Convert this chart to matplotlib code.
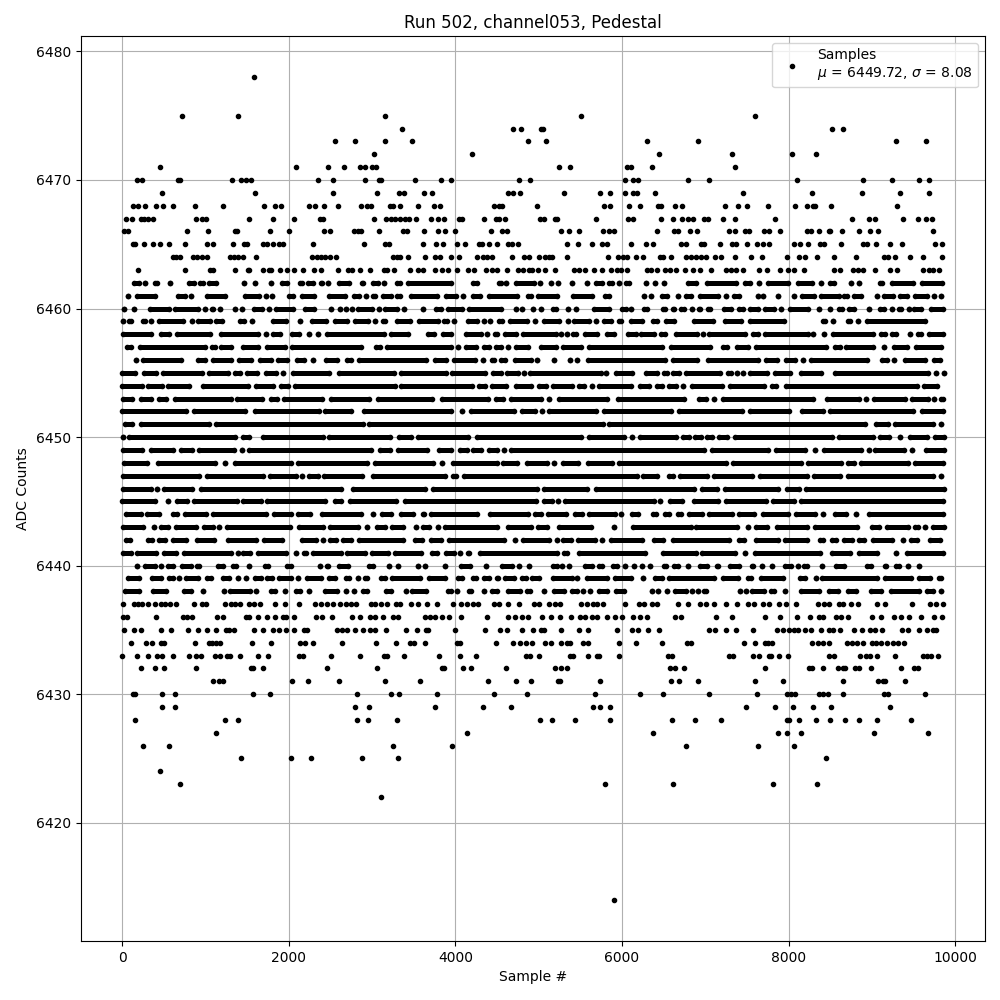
import matplotlib
matplotlib.use("Agg")
import matplotlib.pyplot as plt

# Sample positions, level by level (ADC counts).
# Upper and lower rows: the dots can be told apart, so each one is listed.
dots = {}
dots[6478] = [1584]
dots[6475] = [720, 1392, 3156, 5512, 7592]
dots[6474] = [3364, 4696, 4792, 5032, 5056, 8516, 8648]
dots[6473] = [2556, 2796, 3156, 3484, 4876, 5092, 6304, 6916, 9284, 9644]
dots[6472] = [3024, 4204, 6448, 7316, 8036, 8324]
dots[6471] = [456, 2088, 2472, 2664, 2856, 2920, 3000, 3048, 5248, 5380, 6056, 6104, 6364, 7352]
dots[6470] = [184, 240, 672, 696, 1320, 1424, 1488, 1544, 2352, 2532, 2916, 3088, 3112, 3520, 3832, 3952,
              4768, 4900, 6040, 6136, 6196, 6788, 7040, 8096, 8888, 9236, 9560, 9680]
dots[6469] = [480, 1596, 2532, 3060, 3324, 3388, 3628, 3724, 4636, 4696, 4780, 5308, 5740, 5860, 6040, 6136,
              6184, 6400, 7448, 8276, 8876, 9332, 9680]
dots[6468] = [132, 192, 276, 408, 492, 612, 876, 1212, 1704, 1836, 1908, 2244, 2316, 2424, 2592, 2868, 2944,
              2988, 3216, 3252, 3336, 3556, 3748, 3820, 4468, 4528, 4564, 4984, 5788, 5860, 6088, 6220, 6436,
              6472, 6640, 6716, 7232, 7388, 7496, 7748, 8072, 8216, 8288, 8320, 8504, 9296]
dots[6467] = [48, 120, 224, 264, 312, 372, 888, 960, 1004, 1524, 1812, 2064, 2372, 2412, 3024, 3168, 3224,
              3280, 3336, 3396, 3448, 3532, 3712, 3796, 3868, 4048, 4076, 4348, 4488, 4528, 4600, 5020, 5068,
              5200, 5216, 5692, 6076, 6136, 6472, 6616, 6716, 6788, 6848, 6980, 7028, 7208, 7352, 7832, 8756,
              8960, 9032, 9368, 9548, 9644, 9716]
dots[6466] = [24, 72, 780, 1032, 1360, 1384, 1776, 2004, 2424, 2492, 2784, 2832, 2868, 3084, 3376, 3424, 3628,
              3796, 3880, 4000, 4432, 4560, 4624, 5272, 5368, 5488, 5776, 5840, 5908, 6424, 6628, 6668, 6820,
              6896, 7288, 7360, 7472, 7520, 7700, 7768, 7892, 8216, 8264, 8360, 8480, 8496, 8636, 8840, 8972,
              9068, 9728]
dots[6465] = [128, 160, 264, 372, 456, 564, 756, 1020, 1092, 1332, 1464, 1504, 1692, 1744, 1812, 1884, 1936,
              2292, 2904, 3156, 3208, 3616, 3772, 3856, 4024, 4120, 4288, 4324, 4408, 4504, 4636, 4684, 4756,
              5344, 5476, 5644, 5764, 5824, 6112, 6292, 6376, 6708, 6768, 6948, 6988, 7172, 7316, 7368, 7496,
              7616, 7688, 7760, 8060, 8136, 8228, 8372, 8420, 8624, 8888, 8944, 9044, 9212, 9356, 9752, 9836]
dots[6464] = [608, 648, 696, 852, 896, 960, 1016, 1296, 1344, 1392, 1456, 1608, 2280, 2336, 2384, 2432, 2496,
              2568, 3252, 3304, 3336, 3436, 3640, 3756, 3816, 3952, 4048, 4264, 4336, 4384, 4444, 4684, 4828,
              4888, 5008, 5076, 5128, 5164, 5344, 5836, 5956, 6016, 6064, 6168, 6256, 6460, 6496, 6592, 6772,
              6828, 6888, 6948, 7008, 7112, 7184, 7352, 7544, 7676, 7976, 8120, 8192, 8336, 8540, 8804, 9148,
              9188, 9272, 9452, 9608, 9836]
dots[6463] = [192, 756, 1056, 1096, 1356, 1512, 1528, 1692, 1764, 1792, 1896, 1980, 2064, 2172, 2304, 2388,
              2592, 2712, 2760, 2856, 2972, 3144, 3184, 3268, 3460, 3556, 3616, 3760, 3844, 3916, 4024, 4152,
              4228, 4372, 4436, 4496, 4624, 4756, 4816, 4888, 4924, 4996, 5076, 5200, 5428, 5488, 5560, 5668,
              5764, 5872, 5936, 5984, 6056, 6304, 6352, 6424, 6516, 6576, 6652, 6752, 6848, 6932, 7064, 7248,
              7308, 7368, 7448, 7640, 7736, 7892, 7988, 8068, 8188, 8540, 8612, 8768, 8828, 8896, 9032, 9212,
              9296, 9608, 9688, 9736, 9800]
dots[6437] = [12, 144, 192, 244, 312, 396, 464, 516, 576, 648, 864, 960, 1004, 1236, 1308, 1356, 1416, 1524,
              1584, 1656, 1836, 1956, 2124, 2316, 2392, 2464, 2532, 2616, 2684, 2744, 2804, 2984, 3032, 3104,
              3184, 3288, 3336, 3464, 3556, 3656, 3784, 3976, 4072, 4136, 4216, 4276, 4468, 4528, 4636, 4768,
              4948, 5008, 5128, 5196, 5256, 5512, 5576, 5656, 5696, 5776, 6040, 6208, 6268, 6364, 6424, 6676,
              6788, 6936, 7008, 7108, 7244, 7376, 7508, 7588, 7688, 7760, 7880, 7968, 8088, 8348, 8428, 8488,
              8608, 8656, 8744, 8828, 9056, 9152, 9476, 9696, 9768, 9848]
dots[6436] = [12, 64, 408, 732, 784, 844, 1140, 1212, 1488, 1524, 1632, 1740, 1836, 1932, 1968, 2064, 2324,
              2404, 2520, 2760, 2852, 2976, 3032, 3132, 3252, 3312, 3636, 3696, 3756, 3836, 3928, 4072, 4384,
              4636, 4720, 4804, 4876, 5044, 5152, 5256, 5392, 5500, 5560, 5636, 5704, 5824, 5916, 6004, 6136,
              6220, 6296, 6636, 6708, 7124, 7316, 7712, 7892, 8096, 8252, 8368, 8408, 8564, 8624, 8708, 9000,
              9104, 9260, 9344, 9440, 9592, 9740, 9836]
dots[6435] = [24, 144, 224, 468, 588, 792, 912, 1020, 1128, 1248, 1284, 1344, 1584, 1692, 1816, 1884, 1964,
              2064, 2184, 2224, 2584, 2644, 2704, 2796, 2892, 2976, 3036, 3168, 3412, 3544, 3652, 3676, 4000,
              4360, 4540, 4624, 4804, 4936, 5032, 5064, 5272, 5488, 5596, 5944, 6124, 6196, 6316, 6448, 7040,
              7112, 7244, 7364, 7568, 7856, 7928, 8008, 8068, 8116, 8200, 8268, 8384, 8488, 8536, 8612, 8780,
              8876, 8976, 9036, 9116, 9360, 9428, 9560, 9656, 9728, 9768]
dots[6434] = [108, 288, 360, 464, 504, 876, 1044, 1084, 1124, 1180, 1560, 1788, 2136, 2192, 2292, 2636, 3048,
              3288, 3456, 3504, 3640, 4024, 4056, 4492, 4696, 4780, 4844, 4924, 5080, 5152, 5272, 5336, 5376,
              5532, 5596, 5968, 6172, 6476, 6784, 6828, 7460, 7592, 7716, 7748, 7796, 8276, 8356, 8416, 8480,
              8696, 8756, 8816, 8888, 8996, 9048, 9104, 9176, 9248, 9308, 9380]
dots[6433] = [0, 176, 312, 424, 476, 612, 804, 892, 944, 1116, 1176, 1256, 1296, 1416, 1632, 1752, 2124, 2176,
              2508, 2856, 3144, 3184, 3388, 3808, 4060, 4252, 4848, 4896, 5008, 5380, 5408, 5596, 5696, 5728,
              5968, 6556, 6604, 7280, 7328, 7568, 7640, 7760, 7788, 7880, 7988, 8480, 8548, 8852, 8924, 8976,
              9056, 9272, 9608, 9656, 9708, 9788]
dots[6432] = [228, 396, 504, 888, 1544, 1568, 1692, 2460, 3060, 3844, 3860, 4096, 4192, 4612, 5200, 5272, 5344,
              6580, 6640, 6740, 7712, 8240, 8276, 8408, 8588, 8648, 8676, 8800, 8848, 8984, 9344, 9508, 9548]
dots[6431] = [1092, 1164, 1212, 2040, 2232, 2604, 3156, 3580, 4396, 4732, 4912, 5236, 5260, 5740, 6592, 6688,
              6916, 7592, 7928, 8648, 9068, 9128, 9152, 9392]
dots[6430] = [136, 160, 480, 636, 1572, 1776, 2820, 3228, 3324, 3784, 4468, 4864, 5680, 6220, 6496, 7040, 7616,
              7976, 8028, 8076, 8360, 8416, 8468, 8648, 9140, 9196, 9632]
dots[6429] = [480, 636, 2796, 2964, 3760, 4336, 4672, 5656, 5740, 5860, 7484, 7832, 8048, 8288, 8504, 9212]
dots[6428] = [156, 1236, 1392, 2820, 2952, 3300, 5020, 5164, 5440, 5860, 6604, 6872, 7184, 7976, 8008, 8120,
              8324, 8492, 8672, 8840, 9056, 9464]
dots[6427] = [1128, 4144, 6376, 7868, 7976, 8144, 9020, 9668]
dots[6426] = [252, 564, 3252, 3964, 6772, 7628, 8060]
dots[6425] = [1428, 2028, 2268, 2880, 3312, 8444]
dots[6424] = [456]
dots[6423] = [696, 5800, 6616, 7808, 8336]
dots[6422] = [3108]
dots[6414] = [5908]

# Middle rows: the dots overlap into bars, so single samples can't be read.
# Each pair is the first and last sample of one unbroken stretch.
runs = {}
runs[6462] = [(144, 200), (276, 276), (400, 424), (576, 576), (808, 864), (936, 968), (1040, 1124), (1464, 1464),
              (1596, 1596), (1788, 1788), (1924, 1984), (2136, 2160), (2236, 2292), (2392, 2400), (2476, 2476),
              (2604, 2720), (2876, 2892), (3016, 3072), (3144, 3144), (3296, 3336), (3428, 3952), (4208, 4264),
              (4520, 4552), (4612, 4612), (4728, 4944), (5016, 5016), (5152, 5152), (5236, 5236), (5404, 5404),
              (5584, 5584), (5688, 5764), (5840, 5884), (5968, 5968), (6048, 6084), (6288, 6288), (6400, 6400),
              (6508, 6508), (6788, 6884), (7020, 7368), (7480, 7536), (7640, 7640), (7752, 7996), (8112, 8276),
              (8392, 8392), (8500, 8544), (8744, 8744), (8840, 8840), (9100, 9124), (9240, 9496), (9600, 9836)]
runs[6461] = [(72, 72), (176, 396), (676, 760), (828, 828), (1016, 1232), (1476, 1640), (1728, 1728), (1800, 1800),
              (2008, 2052), (2164, 2304), (2488, 2672), (2784, 2840), (2924, 2924), (3016, 3040), (3136, 3232),
              (3300, 3336), (3468, 3776), (3888, 4004), (4096, 4096), (4216, 4296), (4408, 4744), (4868, 4904),
              (4988, 5224), (5408, 5644), (5800, 5848), (6268, 6268), (6352, 6352), (6480, 6544), (6672, 6672),
              (6768, 6824), (6940, 7156), (7248, 7248), (7340, 7404), (7628, 7628), (7688, 7688), (7868, 7868),
              (8064, 8064), (8160, 8304), (8392, 8608), (8660, 8696), (8780, 8864), (9056, 9056), (9140, 9256),
              (9340, 9424), (9520, 9664), (9748, 9748), (9832, 9832)]
runs[6460] = [(24, 24), (144, 144), (336, 560), (636, 912), (996, 996), (1076, 1092), (1176, 1176), (1356, 1356),
              (1440, 1440), (1584, 1680), (1764, 1764), (1844, 2052), (2196, 2304), (2508, 2508), (2616, 2616),
              (2688, 2688), (2756, 2756), (2832, 3000), (3084, 3084), (3160, 3304), (3388, 3388), (3616, 3616),
              (3768, 3832), (3908, 4084), (4168, 4544), (4724, 4724), (4800, 4800), (4928, 4928), (5032, 5032),
              (5176, 5204), (5352, 5352), (5452, 5452), (5668, 5848), (6000, 6044), (6112, 6112), (6260, 6304),
              (6488, 6512), (6608, 6624), (6708, 6744), (6844, 6844), (6924, 6940), (7032, 7056), (7220, 7304),
              (7400, 7456), (7540, 7628), (7720, 7824), (7912, 7912), (8020, 8236), (8364, 8364), (8492, 8492),
              (8600, 8636), (8720, 8784), (8960, 8960), (9100, 9144), (9236, 9236), (9320, 9344), (9440, 9440),
              (9500, 9584), (9712, 9848)]
runs[6459] = [(12, 12), (84, 112), (256, 280), (348, 348), (448, 736), (840, 840), (916, 1052), (1132, 1200),
              (1416, 1464), (1556, 1556), (1816, 1972), (2136, 2136), (2276, 2452), (2556, 2704), (2792, 2952),
              (3036, 3036), (3136, 3160), (3296, 3456), (3568, 3792), (3868, 3904), (3988, 3988), (4156, 4256),
              (4348, 4348), (4416, 4416), (4520, 4564), (4656, 4864), (4960, 4960), (5068, 5244), (5348, 5348),
              (5428, 5604), (5688, 5688), (5788, 5864), (5960, 5992), (6108, 6244), (6368, 6424), (6528, 6624),
              (6864, 7088), (7232, 7424), (7540, 7948), (8412, 8436), (8536, 8536), (8712, 8736), (8836, 8836),
              (8944, 9636)]
runs[6458] = [(16, 352), (464, 568), (664, 1056), (1184, 1632), (1732, 1732), (1816, 1896), (2036, 2124),
              (2240, 2240), (2352, 2352), (2464, 3144), (3232, 3436), (3668, 3744), (3856, 3944), (4128, 4304),
              (4376, 4376), (4472, 4504), (4600, 4724), (4808, 5204), (5268, 5268), (5340, 5340), (5408, 5444),
              (5560, 5704), (5816, 5904), (6068, 6164), (6228, 6384), (6472, 6512), (6648, 6904), (6968, 6968),
              (7048, 7476), (7572, 7636), (7720, 8236), (8296, 8296), (8420, 8420), (8532, 9016), (9112, 9156),
              (9240, 9288), (9452, 9452), (9552, 9588), (9680, 9856)]
runs[6457] = [(64, 112), (216, 992), (1076, 1112), (1184, 1304), (1456, 1632), (1736, 1952), (2036, 2872),
              (3048, 3092), (3184, 3944), (4032, 4032), (4128, 4244), (4340, 4404), (4488, 4544), (4628, 4628),
              (4728, 4872), (5028, 5204), (5288, 5504), (5600, 6484), (6588, 7056), (7212, 7256), (7380, 7516),
              (7608, 8448), (8560, 8616), (8688, 9008), (9148, 9148), (9264, 9424), (9528, 9824)]
runs[6456] = [(164, 164), (256, 704), (916, 992), (1088, 1304), (1408, 1544), (1656, 1784), (1876, 1984),
              (2096, 2184), (2296, 2296), (2448, 2584), (2704, 2752), (2848, 3644), (3756, 3892), (3988, 4232),
              (4336, 4336), (4440, 4464), (4548, 4592), (4712, 4904), (4980, 4980), (5184, 5184), (5372, 5372),
              (5464, 5464), (5588, 6516), (6608, 6904), (7032, 7636), (7728, 7864), (7968, 8080), (8168, 8168),
              (8272, 8936), (9120, 9184), (9268, 9268), (9392, 9636), (9744, 9816)]
runs[6455] = [(4, 152), (264, 404), (496, 960), (1040, 1272), (1360, 1412), (1504, 1624), (1724, 1852),
              (1936, 1936), (2056, 2480), (2608, 3264), (3344, 3884), (3960, 4352), (4456, 4544), (4616, 4752),
              (4820, 4820), (4896, 5744), (5812, 5812), (5928, 6116), (6288, 6424), (6508, 6536), (6616, 6684),
              (6768, 7176), (7272, 7304), (7376, 7376), (7452, 7452), (7540, 7736), (7840, 8016), (8144, 8388),
              (8552, 9676), (9768, 9768), (9860, 9860)]
runs[6454] = [(4, 244), (312, 484), (556, 800), (976, 1512), (1608, 1812), (1904, 1992), (2076, 3280),
              (3344, 4204), (4280, 4352), (4440, 4604), (4728, 4912), (5000, 5084), (5168, 5404), (5488, 5544),
              (5644, 5644), (5728, 6104), (6216, 6324), (6416, 6484), (6568, 6644), (6728, 6728), (6840, 7196),
              (7300, 7704), (7800, 7848), (7968, 9544), (9620, 9784)]
runs[6453] = [(16, 120), (232, 344), (448, 532), (640, 1304), (1384, 1680), (1784, 1864), (1948, 2400),
              (2512, 2960), (3076, 3724), (3840, 4392), (4488, 4576), (4668, 5024), (5128, 5128), (5240, 5816),
              (5948, 6744), (6920, 7008), (7100, 7100), (7208, 8288), (8460, 8848), (8928, 8928), (9020, 9396),
              (9480, 9676), (9744, 9744), (9832, 9856)]
runs[6452] = [(4, 772), (864, 1480), (1600, 2360), (2436, 2752), (2904, 3944), (4084, 4084), (4188, 4704),
              (4796, 4952), (5044, 5044), (5128, 5684), (5788, 6584), (6688, 7436), (7540, 8008), (8160, 8408),
              (8492, 9488), (9600, 9856)]
runs[6451] = [(36, 120), (228, 1044), (1128, 2892), (2968, 5776), (5848, 8916), (9048, 9196), (9280, 9728),
              (9828, 9828)]
runs[6450] = [(8, 8), (88, 1360), (1448, 1520), (1696, 2412), (2488, 3212), (3328, 3472), (3556, 4156),
              (4256, 5512), (5608, 6024), (6120, 6120), (6216, 6644), (6728, 6804), (6872, 6944), (7020, 7076),
              (7160, 7256), (7352, 8516), (8600, 9016), (9100, 9208), (9332, 9332), (9460, 9664), (9760, 9864)]
runs[6449] = [(16, 240), (344, 616), (712, 840), (928, 1344), (1444, 1444), (1528, 2992), (3096, 3212),
              (3316, 3664), (3808, 3944), (4060, 4136), (4208, 4312), (4400, 4504), (4588, 4588), (4668, 6984),
              (7080, 7756), (7848, 8200), (8316, 8316), (8424, 8864), (8964, 8964), (9040, 9384), (9476, 9476),
              (9648, 9864)]
runs[6448] = [(24, 296), (428, 1120), (1232, 1232), (1360, 2024), (2116, 2936), (3036, 3736), (3844, 3844),
              (3968, 4504), (4576, 4736), (4856, 5104), (5188, 5188), (5288, 5476), (5588, 5884), (5960, 7248),
              (7328, 8144), (8232, 8624), (8712, 8788), (8868, 9436), (9520, 9856)]
runs[6447] = [(16, 924), (1024, 1692), (1776, 2092), (2164, 2164), (2248, 2352), (2424, 2876), (3016, 3872),
              (3968, 4012), (4100, 6184), (6256, 6424), (6560, 6616), (6700, 7024), (7108, 7556), (7652, 8224),
              (8300, 8616), (8708, 9728), (9824, 9824)]
runs[6446] = [(16, 344), (424, 424), (508, 840), (944, 2632), (2768, 3632), (3728, 4976), (5060, 5584),
              (5688, 6864), (6960, 7144), (7232, 7876), (7980, 8128), (8208, 9864)]
runs[6445] = [(4, 400), (556, 556), (664, 784), (864, 1384), (1456, 1664), (1744, 2432), (2556, 2632),
              (2736, 3292), (3400, 4964), (5068, 5164), (5236, 5236), (5320, 6384), (6456, 6456), (6580, 6724),
              (6860, 7148), (7252, 7728), (7808, 8064), (8152, 9856)]
runs[6444] = [(48, 232), (304, 444), (616, 664), (760, 1012), (1088, 1732), (1824, 2032), (2116, 2260),
              (2404, 2872), (3008, 3008), (3116, 3232), (3344, 3496), (3608, 3624), (3704, 4264), (4420, 4872),
              (4960, 5024), (5108, 5324), (5440, 5524), (5608, 5912), (5992, 5992), (6116, 6196), (6368, 6412),
              (6520, 6564), (6668, 6704), (6800, 6956), (7048, 7316), (7408, 7584), (7692, 7988), (8088, 8316),
              (8412, 8412), (8560, 8688), (8812, 8812), (8960, 9856)]
runs[6443] = [(16, 252), (384, 384), (464, 552), (648, 892), (988, 1092), (1168, 1168), (1264, 2016),
              (2128, 2412), (2496, 2832), (2940, 2940), (3056, 3152), (3236, 3376), (3528, 3528), (3616, 3684),
              (3796, 3796), (3880, 4504), (4628, 4904), (4996, 5096), (5248, 5624), (5908, 5908), (6128, 6824),
              (6888, 7384), (7516, 7516), (7608, 7744), (7860, 8216), (8312, 8816), (9000, 9084), (9180, 9436),
              (9520, 9556), (9636, 9636), (9728, 9864)]
runs[6442] = [(44, 100), (316, 360), (444, 512), (616, 772), (904, 1104), (1276, 1612), (1704, 1924),
              (2164, 2332), (2412, 2412), (2496, 2572), (2656, 2752), (2848, 3376), (3520, 3604), (3708, 3824),
              (3920, 4584), (4720, 4720), (4808, 5124), (5216, 5216), (5296, 5392), (5476, 5672), (5764, 5764),
              (5868, 6244), (6388, 6496), (6616, 7288), (7400, 7468), (7608, 7876), (7960, 8224), (8380, 8408),
              (8520, 8568), (8660, 8756), (8840, 8904), (9008, 9236), (9368, 9368), (9472, 9536), (9700, 9816)]
runs[6441] = [(16, 104), (184, 412), (504, 652), (748, 1312), (1396, 1396), (1456, 1532), (1636, 1972),
              (2088, 2088), (2188, 2212), (2296, 2624), (2704, 2912), (2996, 3192), (3276, 3592), (3720, 3784),
              (3888, 3984), (4060, 4060), (4148, 4164), (4296, 5224), (5308, 5344), (5488, 6272), (6488, 6884),
              (6960, 7356), (7476, 7476), (7592, 8376), (8520, 8736), (8848, 9064), (9292, 9292), (9420, 9848)]
runs[6440] = [(184, 184), (280, 392), (468, 468), (548, 612), (724, 824), (904, 924), (1156, 1212), (1336, 1372),
              (1524, 1524), (1720, 1752), (1984, 2032), (2376, 2376), (2456, 2472), (2608, 2712), (2968, 3012),
              (3204, 3204), (3312, 3312), (3556, 3556), (3640, 3640), (3880, 3880), (4068, 4176), (4372, 4372),
              (4560, 4684), (4768, 4768), (4888, 4888), (5168, 5224), (5284, 5284), (5360, 5360), (5552, 5644),
              (5720, 5764), (5888, 5944), (6040, 6040), (6148, 6148), (6244, 6244), (6340, 6340), (6504, 6524),
              (6620, 6672), (6796, 6796), (6940, 7016), (7140, 7156), (7300, 7404), (7560, 7576), (7676, 7676),
              (7796, 7796), (7960, 8024), (8108, 8108), (8188, 8216), (8404, 8404), (8568, 8668), (8940, 8984),
              (9160, 9164), (9288, 9320), (9428, 9428), (9560, 9560)]
runs[6439] = [(76, 200), (356, 464), (568, 612), (688, 688), (768, 912), (1016, 1072), (1208, 1280), (1392, 1392),
              (1488, 1488), (1600, 1672), (1744, 1800), (1888, 2032), (2116, 2116), (2224, 2384), (2488, 2552),
              (2688, 2724), (2832, 2832), (2916, 2936), (3104, 3152), (3236, 3576), (3680, 3876), (4028, 4084),
              (4208, 4252), (4340, 4404), (4496, 4516), (4596, 4704), (4796, 4848), (4920, 5004), (5168, 5404),
              (5464, 5464), (5576, 5824), (5912, 6104), (6256, 6256), (6400, 6484), (6568, 7104), (7208, 7392),
              (7508, 7544), (7664, 7936), (8136, 8200), (8324, 8324), (8400, 9056), (9160, 9464), (9568, 9696),
              (9800, 9824)]
runs[6438] = [(40, 200), (376, 532), (748, 832), (972, 972), (1224, 1224), (1296, 1532), (1608, 1608), (1792, 1840),
              (1956, 1956), (2088, 2140), (2244, 2244), (2436, 2584), (2688, 2688), (2784, 2784), (2896, 2944),
              (3168, 3224), (3408, 3408), (3480, 3644), (3908, 3944), (4020, 4020), (4160, 4184), (4348, 4348),
              (4440, 4504), (4628, 4776), (4856, 4892), (5068, 5068), (5180, 5304), (5396, 5464), (5536, 5536),
              (5620, 5620), (5728, 5824), (5928, 6024), (6364, 6364), (6436, 6436), (6544, 6544), (6640, 6764),
              (6836, 6836), (6908, 6908), (6980, 7004), (7412, 7412), (7484, 7484), (7560, 7704), (7792, 7824),
              (7956, 7956), (8148, 8364), (8480, 8592), (8712, 8808), (8984, 9104), (9224, 9568), (9660, 9736),
              (9828, 9828)]

mean_adc = 6449.72
std_adc = 8.08

fig, ax = plt.subplots(figsize=(10, 10))

xs = []
ys = []
for level in dots:
    xs += dots[level]
    ys += [level] * len(dots[level])
for level in runs:
    for start, end in runs[level]:
        xs += [start, end]
        ys += [level, level]
    # bar a bit thinner than the dots, joining both ends of each stretch
    ax.hlines([level] * len(runs[level]), [r[0] for r in runs[level]], [r[1] for r in runs[level]],
              colors="k", linewidth=3.6, zorder=2)

ax.plot(xs, ys, "k.", label="Samples\n$\\mu$ = %.2f, $\\sigma$ = %.2f" % (mean_adc, std_adc))

ax.set_title("Run 502, channel053, Pedestal")
ax.set_xlabel("Sample #")
ax.set_ylabel("ADC Counts")
ax.grid(True)
ax.legend(loc="upper right")

fig.subplots_adjust(left=0.081, right=0.985, top=0.964, bottom=0.059)
fig.savefig("out.png", dpi=100)
